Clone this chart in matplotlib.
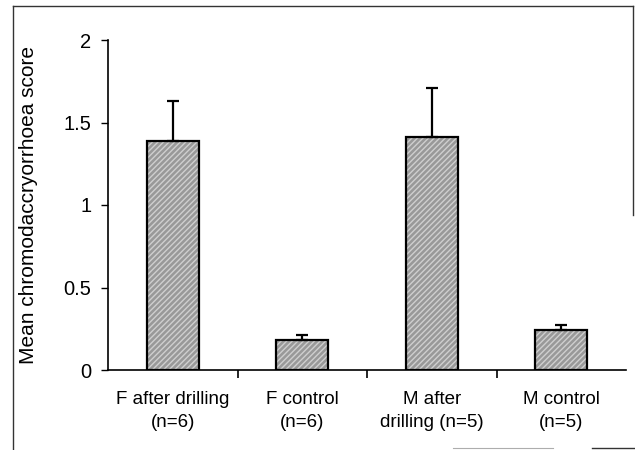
import numpy as np
import matplotlib.pyplot as plt
from matplotlib.lines import Line2D

plt.rcParams['font.family'] = ['Liberation Sans', 'DejaVu Sans']
plt.rcParams['hatch.linewidth'] = 1.0

groups = ["F after drilling\n(n=6)", "F control\n(n=6)",
          "M after\ndrilling (n=5)", "M control\n(n=5)"]
means = [1.39, 0.18, 1.41, 0.24]
errs = [0.24, 0.03, 0.30, 0.03]

W, H = 635, 450
fig = plt.figure(figsize=(6.35, 4.5), dpi=100)
ax = fig.add_axes([108 / W, 1 - 370 / H, 518 / W, 330 / H])

x = np.arange(len(groups))
# grey stippled fill, then black outline on top
ax.bar(x, means, width=0.4, color='#999999', edgecolor='#cfcfcf',
       hatch='//////', linewidth=0, zorder=2)
ax.bar(x, means, width=0.4, fill=False, edgecolor='black',
       linewidth=1.6, zorder=3)
ax.errorbar(x, means, yerr=[np.zeros(len(errs)), errs], fmt='none',
            ecolor='black', elinewidth=1.6, capsize=4, capthick=1.6, zorder=4)

ax.set_xlim(-0.5, 3.5)
ax.set_ylim(0, 2)
ax.set_yticks([0, 0.5, 1, 1.5, 2])
ax.set_yticklabels(['0', '0.5', '1', '1.5', '2'])
ax.set_xticks(x)
ax.set_xticklabels(groups, fontsize=13.5, linespacing=1.45)
ax.set_xticks([0.5, 1.5, 2.5], minor=True)
ax.tick_params(axis='x', which='major', length=0, pad=15)
ax.tick_params(axis='x', which='minor', length=6, width=1.2, direction='out')
ax.tick_params(axis='y', length=5, width=1.0, labelsize=14.5, pad=7)

ax.set_ylabel('Mean chromodaccryorrhoea score', fontsize=15)
ax.yaxis.set_label_coords(-0.135, 0.5)

for s in ['top', 'right']:
    ax.spines[s].set_visible(False)
ax.spines['left'].set_linewidth(1.2)
ax.spines['bottom'].set_linewidth(1.2)

# scanned page frame
def fline(xs, ys, **kw):
    fig.add_artist(Line2D([v / W for v in xs], [1 - v / H for v in ys],
                          transform=fig.transFigure, color='#333333', **kw))

fline([13, 13], [6, 450], lw=1.0)
fline([13, 633], [6, 6], lw=1.0)
fline([633, 633], [6, 215], lw=1.0)
fline([453, 553], [448, 448], lw=0.8, alpha=0.4)
fline([592, 635], [448, 448], lw=1.0)

fig.savefig('out.png', dpi=100)
